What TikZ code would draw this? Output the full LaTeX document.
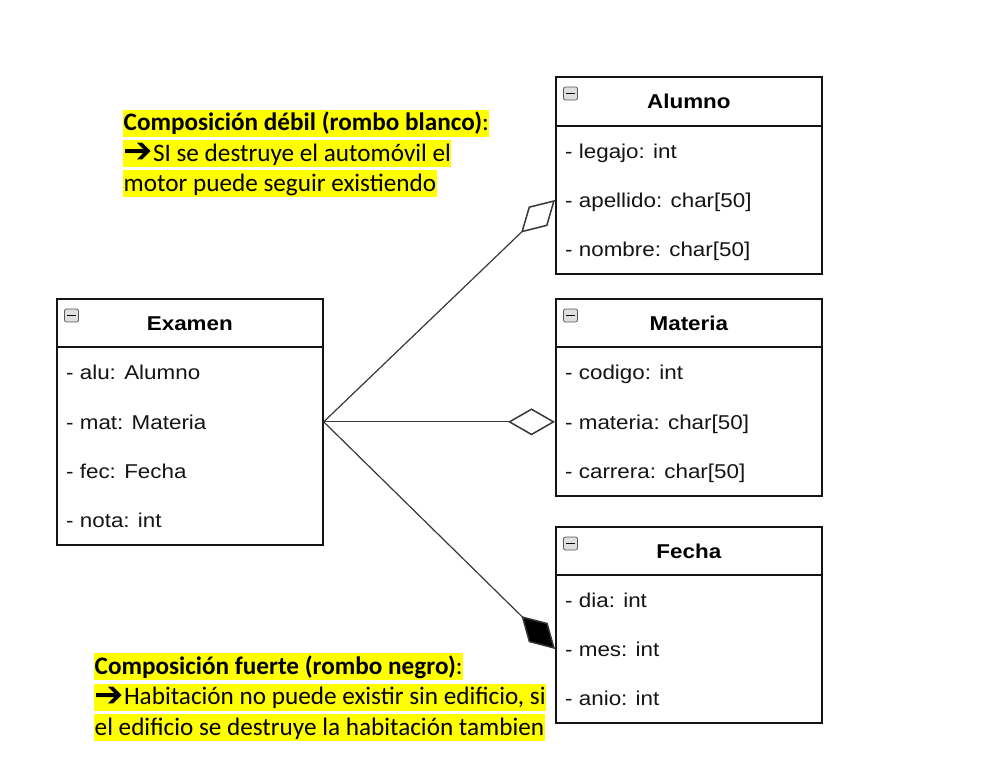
\documentclass[tikz,border=0pt]{standalone}
\usepackage{fontspec}
\usetikzlibrary{arrows.meta}
\newfontfamily\umlfont[FakeStretch=1.12]{Liberation Sans}
\newfontfamily\notefont{Carlito}
\newfontfamily\arrowfont{DejaVu Sans}
\definecolor{hl}{HTML}{FFFF00}
\definecolor{ink}{HTML}{141414}
\tikzset{
  umlbox/.style={draw=ink, line width=1.7pt, fill=white, inner sep=0pt, anchor=north west, minimum width=266pt},
  divider/.style={draw=ink, line width=1.7pt},
  ttl/.style={font=\umlfont\bfseries\fontsize{20}{24}\selectfont, anchor=mid, inner sep=0pt, yshift=-5pt},
  attr/.style={font=\umlfont\fontsize{20}{24}\selectfont, anchor=mid west, inner sep=0pt, text=ink, yshift=-5pt},
  iconbox/.style={draw=gray!70!black, fill=gray!25, rounded corners=2pt, line width=0.8pt, minimum width=14pt, minimum height=13pt, inner sep=0pt},
  iconbar/.style={line width=1.6pt, draw=black},
  conn/.style={draw=ink!85, line width=1.2pt},
  note/.style={font=\notefont\fontsize{25.2}{30}\selectfont, fill=hl, inner xsep=0.5pt, inner ysep=0pt, text height=21pt, text depth=6pt, anchor=base west},
}
\newcommand{\blkarrow}{\raisebox{-1.5pt}{\arrowfont\fontsize{35}{35}\selectfont ➔}}
\begin{document}
\begin{tikzpicture}[x=1pt, y=-1pt]
\useasboundingbox (0,0) rectangle (985,781);

% ---------- Alumno ----------
\node[umlbox, minimum height=197pt] (alumno) at (555,76) {};
\draw[divider] ([yshift=-50pt]alumno.north west) -- ([yshift=-50pt]alumno.north east);
\node[iconbox] (alumno-icon) at ([xshift=15.5pt, yshift=-17.5pt]alumno.north west) {};
\draw[iconbar] ([xshift=3pt]alumno-icon.west) -- ([xshift=-3pt]alumno-icon.east);
\node[ttl] (alumno-t) at ([yshift=-25pt]alumno.north) {Alumno};
\node[attr] (alumno-1) at (565,151) {- legajo: int};
\node[attr] (alumno-2) at (565,200) {- apellido: char[50]};
\node[attr] (alumno-3) at (565,249) {- nombre: char[50]};

% ---------- Materia ----------
\node[umlbox, minimum height=197pt] (materia) at (555,298) {};
\draw[divider] ([yshift=-49pt]materia.north west) -- ([yshift=-49pt]materia.north east);
\node[iconbox] (materia-icon) at ([xshift=15.5pt, yshift=-17.5pt]materia.north west) {};
\draw[iconbar] ([xshift=3pt]materia-icon.west) -- ([xshift=-3pt]materia-icon.east);
\node[ttl] (materia-t) at ([yshift=-25pt]materia.north) {Materia};
\node[attr] (materia-1) at (565,372) {- codigo: int};
\node[attr] (materia-2) at (565,422) {- materia: char[50]};
\node[attr] (materia-3) at (565,471) {- carrera: char[50]};

% ---------- Fecha ----------
\node[umlbox, minimum height=196pt] (fecha) at (555,526) {};
\draw[divider] ([yshift=-49pt]fecha.north west) -- ([yshift=-49pt]fecha.north east);
\node[iconbox] (fecha-icon) at ([xshift=15.5pt, yshift=-17.5pt]fecha.north west) {};
\draw[iconbar] ([xshift=3pt]fecha-icon.west) -- ([xshift=-3pt]fecha-icon.east);
\node[ttl] (fecha-t) at ([yshift=-25pt]fecha.north) {Fecha};
\node[attr] (fecha-1) at (565,600) {- dia: int};
\node[attr] (fecha-2) at (565,649) {- mes: int};
\node[attr] (fecha-3) at (565,698) {- anio: int};

% ---------- Examen ----------
\node[umlbox, minimum height=246pt] (examen) at (56,298) {};
\draw[divider] ([yshift=-49pt]examen.north west) -- ([yshift=-49pt]examen.north east);
\node[iconbox] (examen-icon) at ([xshift=15.5pt, yshift=-17.5pt]examen.north west) {};
\draw[iconbar] ([xshift=3pt]examen-icon.west) -- ([xshift=-3pt]examen-icon.east);
\node[ttl] (examen-t) at ([yshift=-25pt]examen.north) {Examen};
\node[attr] (examen-1) at (66,372) {- alu: Alumno};
\node[attr] (examen-2) at (66,422) {- mat: Materia};
\node[attr] (examen-3) at (66,471) {- fec: Fecha};
\node[attr] (examen-4) at (66,520) {- nota: int};

% ---------- connectors ----------
\coordinate (alumno-end) at ([yshift=-124pt]alumno.north west);
\coordinate (materia-end) at (materia.west |- examen.east);
\coordinate (fecha-end) at ([yshift=-123pt]fecha.north west);
\draw[conn, -{Diamond[length=47pt, width=27pt, fill=white, line width=1.5pt]}] (examen.east) -- (alumno-end);
\draw[conn, -{Diamond[length=47pt, width=27pt, fill=white, line width=1.5pt]}] (examen.east) -- (materia-end);
\draw[conn, -{Diamond[length=47pt, width=27pt, fill=black, line width=1.5pt]}] (examen.east) -- (fecha-end);

% ---------- notes ----------
\node[note] (weak-1) at (123,131) {\bfseries Composición débil (rombo blanco)\mdseries:};
\node[note] (weak-2) at (123,161) {\blkarrow SI se destruye el automóvil el\ };
\node[note] (weak-3) at (123,191) {motor puede seguir existiendo};

\node[note] (strong-1) at (94,674) {\bfseries Composición fuerte (rombo negro)\mdseries:};
\node[note] (strong-2) at (94,704.5) {\blkarrow Habitación no puede existir sin edificio, si\ };
\node[note] (strong-3) at (94,735) {el edificio se destruye la habitación tambien};
\end{tikzpicture}
\end{document}
